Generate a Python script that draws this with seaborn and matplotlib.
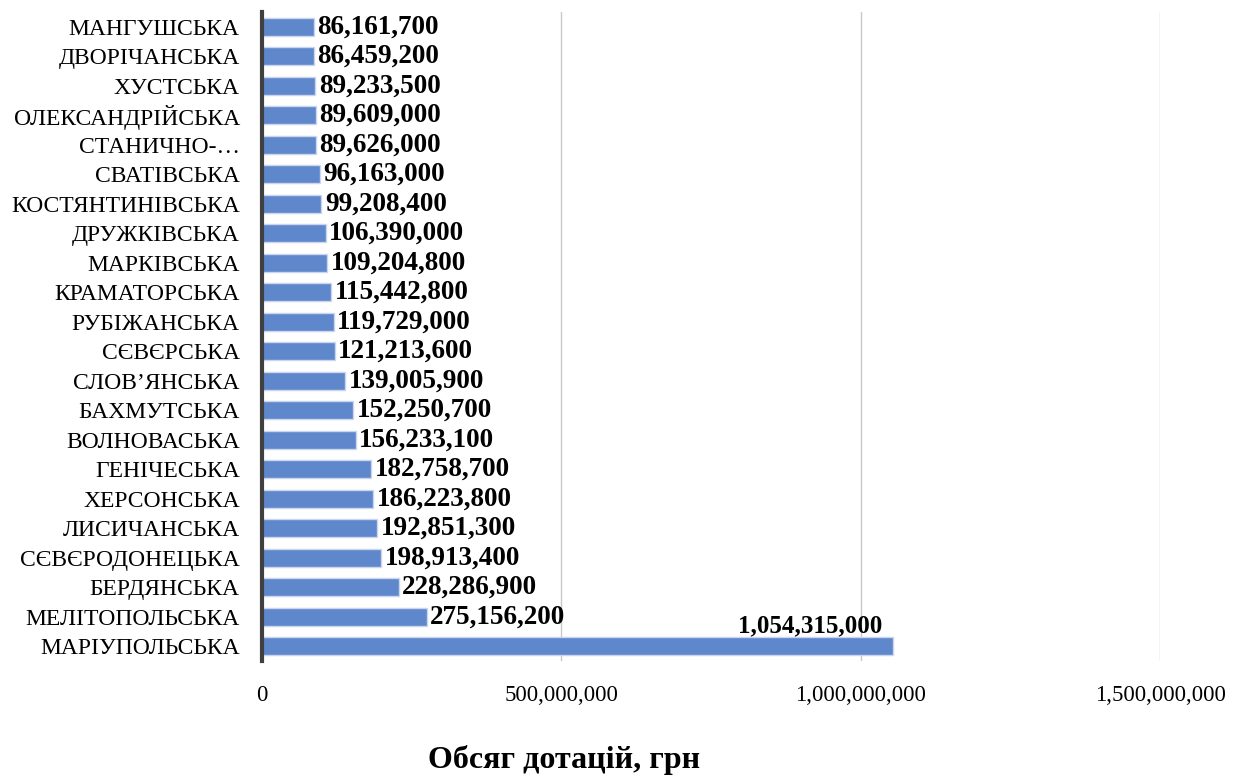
import pandas as pd
import matplotlib
matplotlib.use("Agg")
import matplotlib.pyplot as plt
import seaborn as sns

# Data (top to bottom as shown in the chart)
regions = ["МАНГУШСЬКА", "ДВОРІЧАНСЬКА", "ХУСТСЬКА", "ОЛЕКСАНДРІЙСЬКА", "СТАНИЧНО-…",
           "СВАТІВСЬКА", "КОСТЯНТИНІВСЬКА", "ДРУЖКІВСЬКА", "МАРКІВСЬКА", "КРАМАТОРСЬКА",
           "РУБІЖАНСЬКА", "СЄВЄРСЬКА", "СЛОВ’ЯНСЬКА", "БАХМУТСЬКА", "ВОЛНОВАСЬКА",
           "ГЕНІЧЕСЬКА", "ХЕРСОНСЬКА", "ЛИСИЧАНСЬКА", "СЄВЄРОДОНЕЦЬКА", "БЕРДЯНСЬКА",
           "МЕЛІТОПОЛЬСЬКА", "МАРІУПОЛЬСЬКА"]
subsidies = [86161700, 86459200, 89233500, 89609000, 89626000,
             96163000, 99208400, 106390000, 109204800, 115442800,
             119729000, 121213600, 139005900, 152250700, 156233100,
             182758700, 186223800, 192851300, 198913400, 228286900,
             275156200, 1054315000]
x_ticks = [0, 500000000, 1000000000, 1500000000]

df = pd.DataFrame({"region": regions, "value": subsidies})

sns.set_style("white")
plt.rcParams["font.family"] = ["Liberation Serif", "DejaVu Serif"]
plt.rcParams["text.color"] = "black"
plt.rcParams["axes.labelcolor"] = "black"
plt.rcParams["xtick.color"] = "black"
plt.rcParams["ytick.color"] = "black"

fig = plt.figure(figsize=(12.34, 7.75), dpi=100)
ax = fig.add_axes([262 / 1234, 1 - 661 / 775, 898 / 1234, 649 / 775])

sns.barplot(data=df, x="value", y="region", orient="h", color="#5f87cc",
            edgecolor="#c9d6ee", linewidth=1, width=0.62, saturation=1, ax=ax)

ax.set_xlim(0, 1500000000)
ax.set_ylim(len(regions) - 0.5, -0.5)
ax.set_xticks(x_ticks)
ax.set_xticklabels([f"{t:,}" for t in x_ticks], fontsize=16.5)
ax.tick_params(axis="x", length=0, pad=17)
ax.tick_params(axis="y", length=0, pad=16, labelsize=17)
ax.xaxis.grid(True, color="#c8c8c8", linewidth=1)
ax.set_axisbelow(True)
for s in ["top", "right", "bottom"]:
    ax.spines[s].set_visible(False)
ax.spines["left"].set_color("#404040")
ax.spines["left"].set_linewidth(3)
ax.set_ylabel("")

# Value labels
for i, v in enumerate(subsidies):
    if v > 1000000000:
        ax.annotate(f"{v:,}", (v, i), xytext=(-8, 15), textcoords="offset points",
                    ha="right", va="center", fontsize=18, fontweight="bold")
    else:
        ax.annotate(f"{v:,}", (v, i), xytext=(2.5, 0), textcoords="offset points",
                    ha="left", va="center", fontsize=19.5, fontweight="bold")

ax.set_xlabel("Обсяг дотацій, грн", fontsize=23, fontweight="bold")
ax.xaxis.set_label_coords((564 - 262) / 898, -(760 - 661) / 649)
ax.xaxis.label.set_va("center")

fig.savefig("out.png", dpi=100)
